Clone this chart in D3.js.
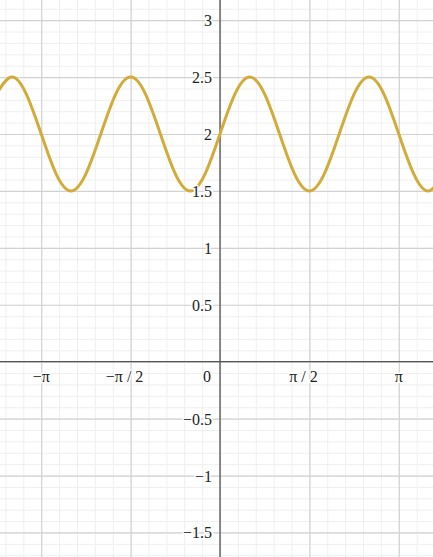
<!DOCTYPE html>
<html>
<head>
<meta charset="utf-8">
<script src="https://cdn.jsdelivr.net/npm/d3@7"></script>
<style>
  html, body { margin: 0; padding: 0; background: #fff; overflow: hidden; }
  svg { display: block; }
  .lbl { font-family: "Times New Roman", "Liberation Serif", Times, serif; font-size: 16px; fill: #222;
         stroke: #fff; stroke-width: 3px; paint-order: stroke; stroke-linejoin: round; }
</style>
</head>
<body>
<div id="chart"></div>
<script>
// curve samples, x in multiples of pi/12
const sampleSteps = [-15, -14, -13, -12, -11, -10, -9, -8, -7, -6, -5, -4, -3, -2, -1,
                     0, 1, 2, 3, 4, 5, 6, 7, 8, 9, 10, 11, 12, 13, 14, 15];
const sampleValues = [2.35, 2.5, 2.35, 2, 1.65, 1.5, 1.65, 2, 2.35, 2.5, 2.35, 2, 1.65, 1.5, 1.65,
                      2, 2.35, 2.5, 2.35, 2, 1.65, 1.5, 1.65, 2, 2.35, 2.5, 2.35, 2, 1.65, 1.5, 1.65];

// x axis ticks in multiples of pi/2
const xTickSteps = [-2, -1, 0, 1, 2];
const xTickLabels = ['\u2212\u03c0', '\u2212\u03c0 / 2', '0', '\u03c0 / 2', '\u03c0'];
const yTickValues = [-1.5, -1, -0.5, 0.5, 1, 1.5, 2, 2.5, 3];

const width = 433;
const height = 557;

const svg = d3.select('#chart').append('svg')
    .attr('width', width)
    .attr('height', height);

// Scales
const xScale = d3.scaleLinear()
    .domain([-Math.PI / 2, Math.PI / 2])
    .range([130.6, 309.4]);
const yScale = d3.scaleLinear()
    .domain([0, 2])
    .range([361.7, 134]);

const x0 = xScale.invert(0), x1 = xScale.invert(width);
const y0 = yScale.invert(height), y1 = yScale.invert(0);

// Grid: minor lines every pi/10 and 0.1, major every pi/2 and 0.5
const minorX = d3.range(Math.ceil(x0 / (Math.PI / 10)), Math.floor(x1 / (Math.PI / 10)) + 1)
    .map(k => k * Math.PI / 10);
const minorY = d3.range(Math.ceil(y0 / 0.1), Math.floor(y1 / 0.1) + 1).map(k => k * 0.1);
const majorX = d3.range(Math.ceil(x0 / (Math.PI / 2)), Math.floor(x1 / (Math.PI / 2)) + 1)
    .map(k => k * Math.PI / 2);
const majorY = d3.range(Math.ceil(y0 / 0.5), Math.floor(y1 / 0.5) + 1).map(k => k * 0.5);

function grid(axis, values, size, color, w) {
    svg.append('g')
        .attr('class', 'grid')
        .call(axis.tickValues(values).tickSize(size).tickFormat(''))
        .call(g => g.select('.domain').remove())
        .call(g => g.selectAll('line').attr('stroke', color).attr('stroke-width', w));
}
grid(d3.axisBottom(xScale), minorX, height, '#efefef', 1);
grid(d3.axisRight(yScale), minorY, width, '#efefef', 1);
grid(d3.axisBottom(xScale), majorX, height, '#d2d2d2', 1.2);
grid(d3.axisRight(yScale), majorY, width, '#d2d2d2', 1.2);

// Axes lines
svg.append('line')
    .attr('x1', 0).attr('x2', width)
    .attr('y1', yScale(0)).attr('y2', yScale(0))
    .attr('stroke', '#555').attr('stroke-width', 1.3);
svg.append('line')
    .attr('x1', xScale(0)).attr('x2', xScale(0))
    .attr('y1', 0).attr('y2', height)
    .attr('stroke', '#555').attr('stroke-width', 1.3);

// Curve
const points = sampleSteps.map((k, i) => ({ x: k * Math.PI / 12, y: sampleValues[i] }));
const line = d3.line()
    .x(d => xScale(d.x))
    .y(d => yScale(d.y))
    .curve(d3.curveNatural);

svg.append('path')
    .datum(points)
    .attr('d', line)
    .attr('fill', 'none')
    .attr('stroke', '#d2ab3a')
    .attr('stroke-width', 3)
    .attr('stroke-linejoin', 'round');

// Labels
xTickSteps.forEach((k, i) => {
    const isFrac = xTickLabels[i].includes('/');
    svg.append('text')
        .attr('class', 'lbl')
        .attr('x', k === 0 ? xScale(0) - 13 : xScale(k * Math.PI / 2) - (isFrac ? 6 : 0))
        .attr('y', yScale(0) + 20)
        .attr('text-anchor', 'middle')
        .text(xTickLabels[i]);
});

yTickValues.forEach(v => {
    svg.append('text')
        .attr('class', 'lbl')
        .attr('x', xScale(0) - 8)
        .attr('y', yScale(v) + 6)
        .attr('text-anchor', 'end')
        .text(d3.format('')(v).replace('-', '\u2212'));
});
</script>
</body>
</html>
